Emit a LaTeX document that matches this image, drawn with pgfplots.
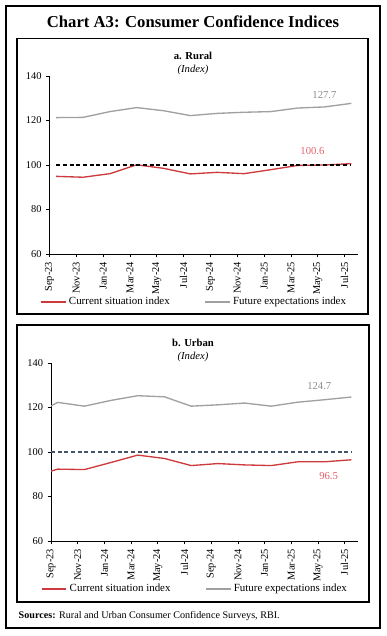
\documentclass[border=0pt]{standalone}
\usepackage{pgfplots}
\pgfplotsset{compat=1.18}
\usepackage{pgfplotstable}
\usepackage{fontspec}
\setmainfont{Liberation Serif}
\definecolor{cred}{RGB}{204,58,62}
\definecolor{cgrey}{RGB}{160,160,160}
\definecolor{lred}{RGB}{228,96,108}
\definecolor{lgrey}{RGB}{140,140,140}
\definecolor{slate}{RGB}{68,84,106}

\pgfplotstableread{
x grey red
0.5 121.3 94.9
2.5 121.4 94.5
4.5 124.0 96.1
6.5 125.8 100.1
8.5 124.4 98.5
10.5 122.2 96.0
12.5 123.2 96.7
14.5 123.7 96.1
16.5 124.0 97.9
18.5 125.6 99.8
20.5 126.1 100.0
22.5 127.7 100.6
}\rural

\pgfplotstableread{
x grey red
0.0 120.7 91.4
0.5 122.3 92.3
2.5 120.6 92.1
4.5 123.2 95.3
6.5 125.3 98.6
8.5 124.8 97.1
10.5 120.6 93.9
12.5 121.2 94.8
14.5 122.0 94.2
16.5 120.6 93.9
18.5 122.4 95.6
20.5 123.5 95.6
22.5 124.7 96.5
}\urban

\pgfplotsset{
  ccistyle/.style={
    scale only axis,
    height=133.5pt,
    xmin=0, xmax=23, ymin=60, ymax=140,
    ytick={60,80,...,140},
    xtick={0,2,...,22},
    xticklabels={Sep-23,Nov-23,Jan-24,Mar-24,May-24,Jul-24,Sep-24,Nov-24,Jan-25,Mar-25,May-25,Jul-25},
    axis lines=left,
    axis line style={-, line width=0.6pt},
    tick align=outside,
    major tick length=2.5pt,
    tick style={black, line width=0.5pt},
    /pgf/number format/assume math mode=true,
    tick label style={font=\fontsize{7.8}{9}\selectfont},
    x tick label style={rotate=90, anchor=east},
    legend style={at={(0.47,-0.27)}, anchor=center, draw=none, fill=none,
      legend columns=2, font=\fontsize{8.2}{10}\selectfont,
      /tikz/every even column/.append style={column sep=24pt}},
    legend image code/.code={\draw[#1] (0cm,0cm) -- (0.65cm,0cm);},
  }
}

\begin{document}
\begin{tikzpicture}
\begin{scope}[x=0.75pt,y=0.75pt]
\path (0,0) rectangle (386,636);
\draw[line width=2.2pt] (6,8) rectangle (380,630);
\node[font=\bfseries\fontsize{12.5}{14}\selectfont] at (193,614) {Chart A3: Consumer Confidence Indices};
\draw[line width=0.8pt] (17,597.5) rectangle (368,322);
\draw[line width=0.8pt] (17,311) rectangle (369,34);
\node[font=\bfseries\fontsize{8}{9}\selectfont] at (193,580) {a. Rural};
\node[font=\itshape\fontsize{8}{9}\selectfont] at (193,566) {(Index)};
\node[font=\bfseries\fontsize{8}{9}\selectfont] at (193,293) {b. Urban};
\node[font=\itshape\fontsize{8}{9}\selectfont] at (193,279) {(Index)};
\node[anchor=west, font=\fontsize{7.6}{9}\selectfont] at (14,20) {\textbf{Sources:} Rural and Urban Consumer Confidence Surveys, RBI.};
\end{scope}

\begin{axis}[ccistyle, at={(37.125pt,286.5pt)}, anchor=south west, width=231.4pt]
\addplot[cred, line width=1pt] table[x=x, y=red] {\rural};
\addlegendentry{Current situation index}
\addplot[cgrey, line width=1pt] table[x=x, y=grey] {\rural};
\addlegendentry{Future expectations index}
\addplot[black, line width=1.3pt, dash pattern=on 3pt off 2pt, forget plot] coordinates {(0.5,100) (22.5,100)};
\node[lgrey, font=\fontsize{8}{9}\selectfont] at (axis cs:20.5,131.5) {127.7};
\node[lred, font=\fontsize{8}{9}\selectfont] at (axis cs:19.6,106.4) {100.6};
\end{axis}

\begin{axis}[ccistyle, at={(38.25pt,71.25pt)}, anchor=south west, width=230.25pt]
\addplot[cred, line width=1pt] table[x=x, y=red] {\urban};
\addlegendentry{Current situation index}
\addplot[cgrey, line width=1pt] table[x=x, y=grey] {\urban};
\addlegendentry{Future expectations index}
\addplot[slate, line width=1.3pt, dash pattern=on 3pt off 2pt, forget plot] coordinates {(0,100) (22.5,100)};
\node[lgrey, font=\fontsize{8}{9}\selectfont] at (axis cs:20.1,129.7) {124.7};
\node[lred, font=\fontsize{8}{9}\selectfont] at (axis cs:20.8,89.3) {96.5};
\end{axis}
\end{tikzpicture}
\end{document}
